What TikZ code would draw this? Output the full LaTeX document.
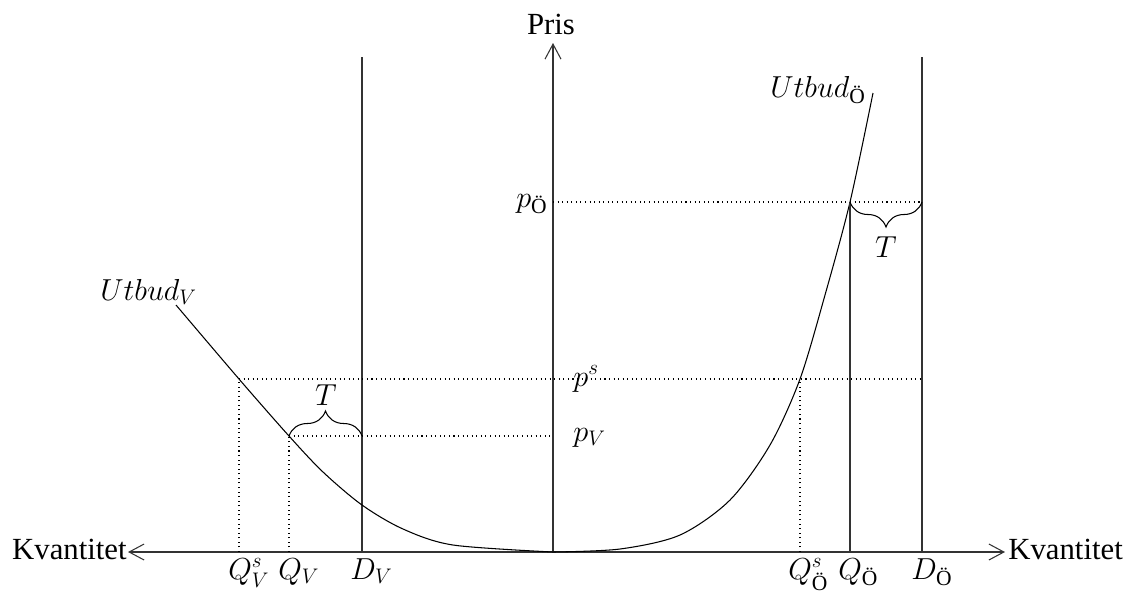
\documentclass[tikz,border=0pt]{standalone}
\usepackage{amsmath}
\usepackage{fontspec}
\setmainfont{Liberation Serif}
\usetikzlibrary{arrows.meta,decorations.pathreplacing}

\begin{document}
\begin{tikzpicture}[x=0.02cm, y=-0.02cm,
    font=\fontsize{17.5}{21}\selectfont,
    axis/.style={line width=0.6pt, black!80, {Straight Barb[length=3mm,width=3.2mm]}-{Straight Barb[length=3mm,width=3.2mm]}},
    solidline/.style={line width=0.6pt, black!80},
    guide/.style={dotted, line width=0.6pt},
    curve/.style={line width=0.6pt},
    brace/.style={decorate, decoration={brace, amplitude=0.5cm, aspect=0.5}, line width=0.6pt},
    lbl/.style={inner sep=0pt}
]
\useasboundingbox (0,0) rectangle (1135,593);

% Axes
\coordinate (O) at (553,552);
\coordinate (xleft) at (128,552);
\coordinate (xright) at (1005,552);
\coordinate (ytop) at (553,43);
\draw[axis] (xleft) -- (xright);
\draw[axis, {Straight Barb[length=3mm,width=3.2mm]}-] (ytop) -- (O);
\node[lbl, anchor=base east] (kvleft) at (127,559) {Kvantitet};
\node[lbl, anchor=base west] (kvright) at (1008,559) {Kvantitet};
\node[lbl, anchor=base] (pris) at (551,34) {Pris};

% Demand lines
\coordinate (DVtop) at (362,57);
\coordinate (DVbot) at (362,552);
\coordinate (DOtop) at (922,57);
\coordinate (DObot) at (922,552);
\draw[solidline] (DVtop) -- (DVbot);
\draw[solidline] (DOtop) -- (DObot);

% Supply curves
\draw[curve] plot[smooth] coordinates {(553,552) (453,545) (403,529) (362,505) (323,472) (289,436) (239,379) (176,305)};
\draw[curve] plot[smooth] coordinates {(553,552) (620,549) (680,535) (730,500) (770,445) (800,379) (825,295) (850,202) (873,93)};
\node[lbl, anchor=base west] (utbv) at (100,300) {$Utbud_V$};
\node[lbl, anchor=base west] (utbo) at (770,97) {$Utbud_{\text{Ö}}$};

% Price levels
\coordinate (psl) at (239,379);
\coordinate (psr) at (922,379);
\coordinate (pvl) at (289,436);
\coordinate (pvr) at (553,436);
\coordinate (pol) at (553,202);
\coordinate (por) at (922,202);
\coordinate (QVsbot) at (239,552);
\coordinate (QVbot) at (289,552);
\coordinate (QOsbot) at (800,552);
\coordinate (QOsup) at (800,379);
\coordinate (QObot) at (850,552);
\coordinate (QOup) at (850,202);
\draw[guide] (psl) -- (psr);
\draw[guide] (pvl) -- (pvr);
\draw[guide] (pol) -- (por);
\draw[guide] (QVsbot) -- (psl);
\draw[guide] (QVbot) -- (pvl);
\draw[guide] (QOsbot) -- (QOsup);
\draw[solidline] (QObot) -- (QOup);

\node[lbl, anchor=base west] (ps) at (573,386) {$p^s$};
\node[lbl, anchor=base west] (pv) at (573,441) {$p_V$};
\node[lbl, anchor=base east] (po) at (548,207) {$p_{\text{Ö}}$};

% Tariff braces
\draw[brace] (pvl) -- (DVbot |- pvl);
\node[lbl, anchor=base] (tv) at (326,405) {$T$};
\draw[brace] (por) -- (QOup);
\node[lbl, anchor=base] (to) at (886,257) {$T$};

% Quantity labels
\node[lbl, anchor=base west] (lqvs) at (228,579) {$Q_V^s$};
\node[lbl, anchor=base west] (lqv) at (278,579) {$Q_V$};
\node[lbl, anchor=base west] (ldv) at (350,579) {$D_V$};
\node[lbl, anchor=base west] (lqos) at (788,579) {$Q_{\text{Ö}}^s$};
\node[lbl, anchor=base west] (lqo) at (838,579) {$Q_{\text{Ö}}$};
\node[lbl, anchor=base west] (ldo) at (911,579) {$D_{\text{Ö}}$};
\end{tikzpicture}
\end{document}
